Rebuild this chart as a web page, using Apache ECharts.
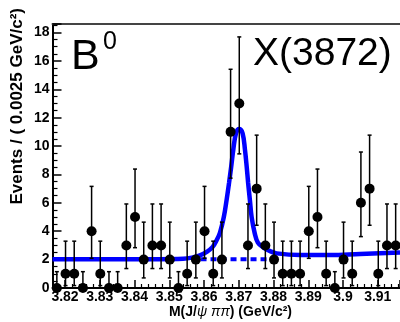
<!DOCTYPE html>
<html><head><meta charset="utf-8">
<script src="https://cdn.jsdelivr.net/npm/echarts@6/dist/echarts.min.js"></script>
<style>html,body{margin:0;padding:0;background:#fff}#c{width:400px;height:322px}</style>
</head><body><div id="c"></div>
<script>
// Bin centres (GeV/c^2), 0.0025 GeV bins
const massBins = [3.81765,3.82015,3.82265,3.82515,3.82765,3.83015,3.83265,3.83515,3.83765,3.84015,
                  3.84265,3.84515,3.84765,3.85015,3.85265,3.85515,3.85765,3.86015,3.86265,3.86515,
                  3.86765,3.87015,3.87265,3.87515,3.87765,3.88015,3.88265,3.88515,3.88765,3.89015,
                  3.89265,3.89515,3.89765,3.90015,3.90265,3.90515,3.90765,3.91015,3.91265,3.91515];
const counts   = [0,1,1,0,4,1,0,0,3,5, 2,3,3,2,0,1,2,4,1,2, 11,13,3,7,3,2,1,1,1,4, 5,1,0,2,1,6,7,1,3,3];
const errLow   = [0,0.17,0.17,0,2.09,0.17,0,0,1.37,2.84, 0.71,1.37,1.37,0.71,0,0.17,0.71,2.09,0.17,0.71,
                  7.74,9.45,1.37,4.42,1.37,0.71,0.17,0.17,0.17,2.09, 2.84,0.17,0,0.71,0.17,3.62,4.42,0.17,1.37,1.37];
const errHigh  = [1.15,3.30,3.30,1.15,7.16,3.30,1.15,1.15,5.92,8.38, 4.64,5.92,5.92,4.64,1.15,3.30,4.64,7.16,3.30,4.64,
                  15.41,17.69,5.92,10.77,5.92,4.64,3.30,3.30,3.30,7.16, 8.38,3.30,1.15,4.64,3.30,9.58,10.77,3.30,5.92,5.92];
// Fit curve (total)
const fitX = [3.8164,3.8301,3.8445,3.8540,3.8565,3.8588,3.8608,3.8625,3.8637,3.8646,3.8657,3.8665,3.8672,3.8678,
              3.8684,3.8692,3.8701,3.8711,3.8718,3.8723,3.8727,3.8732,3.8737,3.8746,3.8755,3.8771,3.8790,3.8809,
              3.8876,3.8963,3.9049,3.9164];
const fitY = [2.02,2.02,2.03,2.06,2.14,2.30,2.55,2.90,3.40,3.90,5.00,6.20,7.40,8.50,
              9.70,10.90,11.20,10.90,9.70,8.50,7.40,6.20,5.00,3.85,3.20,2.85,2.60,2.44,
              2.32,2.32,2.40,2.50];
// Background-only component (dashed)
const bkgX = [3.8590, 3.8785];
const bkgY = [2.02, 2.02];
const xRange = [3.8164, 3.9164];
const yRange = [0, 18.6];

const FONT = '"Liberation Sans", Arial, Helvetica, sans-serif';
const chart = echarts.init(document.getElementById('c'), null, {renderer:'canvas'});
const lblStyle = {color:'#000', fontFamily:FONT, fontWeight:'bold', fontSize:14};

chart.setOption({
  animation:false,
  backgroundColor:'#fff',
  grid:{left:52.5, right:0, top:24, bottom:34},
  xAxis:[{
    type:'value', min:xRange[0], max:xRange[1], splitNumber:10,
    axisLine:{onZero:false, lineStyle:{color:'#000', width:2}},
    axisTick:{inside:true, length:8, lineStyle:{color:'#000', width:1.5}},
    minorTick:{show:true, splitNumber:5, length:4, lineStyle:{color:'#000', width:1.2}},
    axisLabel:Object.assign({margin:2, showMinLabel:false, showMaxLabel:false}, lblStyle),
    splitLine:{show:false}
  },{
    type:'value', position:'top', min:xRange[0], max:xRange[1],
    axisLine:{onZero:false, lineStyle:{color:'#444', width:2}},
    axisTick:{show:false}, axisLabel:{show:false}, splitLine:{show:false}
  }],
  yAxis:{
    type:'value', min:yRange[0], max:yRange[1], interval:2,
    axisLine:{show:true, onZero:false, lineStyle:{color:'#000', width:2}},
    axisTick:{inside:true, length:9, lineStyle:{color:'#000', width:1.5}},
    minorTick:{show:true, splitNumber:4, length:5, lineStyle:{color:'#000', width:1.2}},
    axisLabel:Object.assign({margin:3, showMaxLabel:false}, lblStyle),
    splitLine:{show:false}
  },
  series:[
    {type:'line', name:'bkg', data:bkgX.map((x,i)=>[x,bkgY[i]]), showSymbol:false, z:2,
     lineStyle:{color:'#0000ff', width:4, type:[6,4]}},
    {type:'line', name:'fit', data:fitX.map((x,i)=>[x,fitY[i]]), showSymbol:false, smooth:0.4, z:3,
     lineStyle:{color:'#0000ff', width:4.5}},
    {type:'custom', name:'err', z:4, clip:false,
     data:massBins.map((m,i)=>[m, errLow[i], errHigh[i]]),
     encode:{x:0, y:[1,2]},
     renderItem:function(params, api){
       const x = api.value(0);
       const pLo = api.coord([x, api.value(1)]);
       const pHi = api.coord([x, api.value(2)]);
       const c = 2, st = {stroke:'#000', lineWidth:1.5};
       return {type:'group', children:[
         {type:'line', shape:{x1:pLo[0], y1:pLo[1], x2:pHi[0], y2:pHi[1]}, style:st},
         {type:'line', shape:{x1:pHi[0]-c, y1:pHi[1], x2:pHi[0]+c, y2:pHi[1]}, style:st},
         {type:'line', shape:{x1:pLo[0]-c, y1:pLo[1], x2:pLo[0]+c, y2:pLo[1]}, style:st}
       ]};
     }},
    {type:'scatter', name:'data', z:5, clip:false, symbol:'circle', symbolSize:10,
     itemStyle:{color:'#000', opacity:1}, data:massBins.map((m,i)=>[m, counts[i]])}
  ],
  graphic:[
    {type:'text', x:17, y:8, rotation:Math.PI/2, z:10,
     style:{text:'Events / ( 0.0025 GeV/c²)', fill:'#000', font:'bold 17px '+FONT, align:'right', verticalAlign:'middle'}},
    {type:'text', x:292, y:312, z:10,
     style:{text:'{b|M(J/}{g|ψ ππ}{b|) (GeV/c²)}', align:'right', verticalAlign:'middle',
       rich:{b:{fill:'#000', font:'bold 14px '+FONT}, g:{fill:'#000', font:'italic 14px '+FONT}}}},
    {type:'text', x:71, y:57, z:10,
     style:{text:'B', fill:'#000', font:'43px '+FONT, align:'left', verticalAlign:'middle'}},
    {type:'text', x:103, y:42, z:10,
     style:{text:'0', fill:'#000', font:'25px '+FONT, align:'left', verticalAlign:'middle'}},
    {type:'text', x:253, y:54, z:10,
     style:{text:'X(3872)', fill:'#000', font:'39px '+FONT, align:'left', verticalAlign:'middle'}}
  ]
});
</script></body></html>
